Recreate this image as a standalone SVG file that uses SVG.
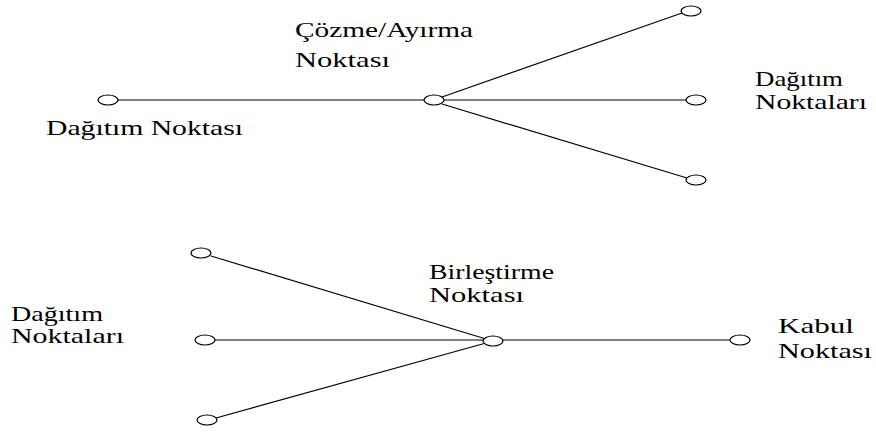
<svg xmlns="http://www.w3.org/2000/svg" width="876" height="436" viewBox="0 0 876 436">
<style>
.n{fill:#fff;stroke:#000;stroke-width:1.2}
.c line{stroke:#000;stroke-width:1.2}
text{font-family:"Liberation Serif","DejaVu Serif",serif;font-size:21px;fill:#000}
</style>
<rect width="876" height="436" fill="#fff"/>
<g class="c" id="connectors">
<line x1="118" y1="100" x2="424" y2="100"/>
<line x1="444" y1="100" x2="686" y2="100"/>
<line x1="442" y1="97" x2="682" y2="13"/>
<line x1="442" y1="104" x2="687" y2="178"/>
<line x1="211" y1="256" x2="486" y2="339"/>
<line x1="215" y1="340" x2="483" y2="340"/>
<line x1="216" y1="418" x2="486" y2="343"/>
<line x1="503" y1="340" x2="730" y2="340"/>
</g>
<g id="top-source"><ellipse class="n" cx="108" cy="100" rx="10" ry="5"/><text x="46" y="135" textLength="197" lengthAdjust="spacingAndGlyphs">Dağıtım Noktası</text></g>
<g id="split"><ellipse class="n" cx="434" cy="100" rx="10" ry="5"/><text x="295" y="37" textLength="178" lengthAdjust="spacingAndGlyphs">Çözme/Ayırma</text><text x="295" y="67" textLength="95" lengthAdjust="spacingAndGlyphs">Noktası</text></g>
<g id="top-d1"><ellipse class="n" cx="691" cy="11" rx="10" ry="5"/></g>
<g id="top-d2"><ellipse class="n" cx="696" cy="100" rx="10" ry="5"/></g>
<g id="top-d3"><ellipse class="n" cx="696" cy="180" rx="10" ry="5"/></g>
<g id="top-label"><text x="755" y="86" textLength="88" lengthAdjust="spacingAndGlyphs">Dağıtım</text><text x="755" y="109" textLength="112" lengthAdjust="spacingAndGlyphs">Noktaları</text></g>
<g id="bot-d1"><ellipse class="n" cx="201" cy="253" rx="10" ry="5"/></g>
<g id="bot-d2"><ellipse class="n" cx="205" cy="340" rx="10" ry="5"/></g>
<g id="bot-d3"><ellipse class="n" cx="207" cy="420" rx="10" ry="5"/></g>
<g id="bot-label"><text x="11" y="321" textLength="92" lengthAdjust="spacingAndGlyphs">Dağıtım</text><text x="11" y="343" textLength="113" lengthAdjust="spacingAndGlyphs">Noktaları</text></g>
<g id="merge"><ellipse class="n" cx="493" cy="341" rx="10" ry="5"/><text x="429" y="279" textLength="125" lengthAdjust="spacingAndGlyphs">Birleştirme</text><text x="429" y="302" textLength="95" lengthAdjust="spacingAndGlyphs">Noktası</text></g>
<g id="accept"><ellipse class="n" cx="740" cy="340" rx="10" ry="5"/><text x="778" y="333" textLength="76" lengthAdjust="spacingAndGlyphs">Kabul</text><text x="778" y="358" textLength="94" lengthAdjust="spacingAndGlyphs">Noktası</text></g>
</svg>
